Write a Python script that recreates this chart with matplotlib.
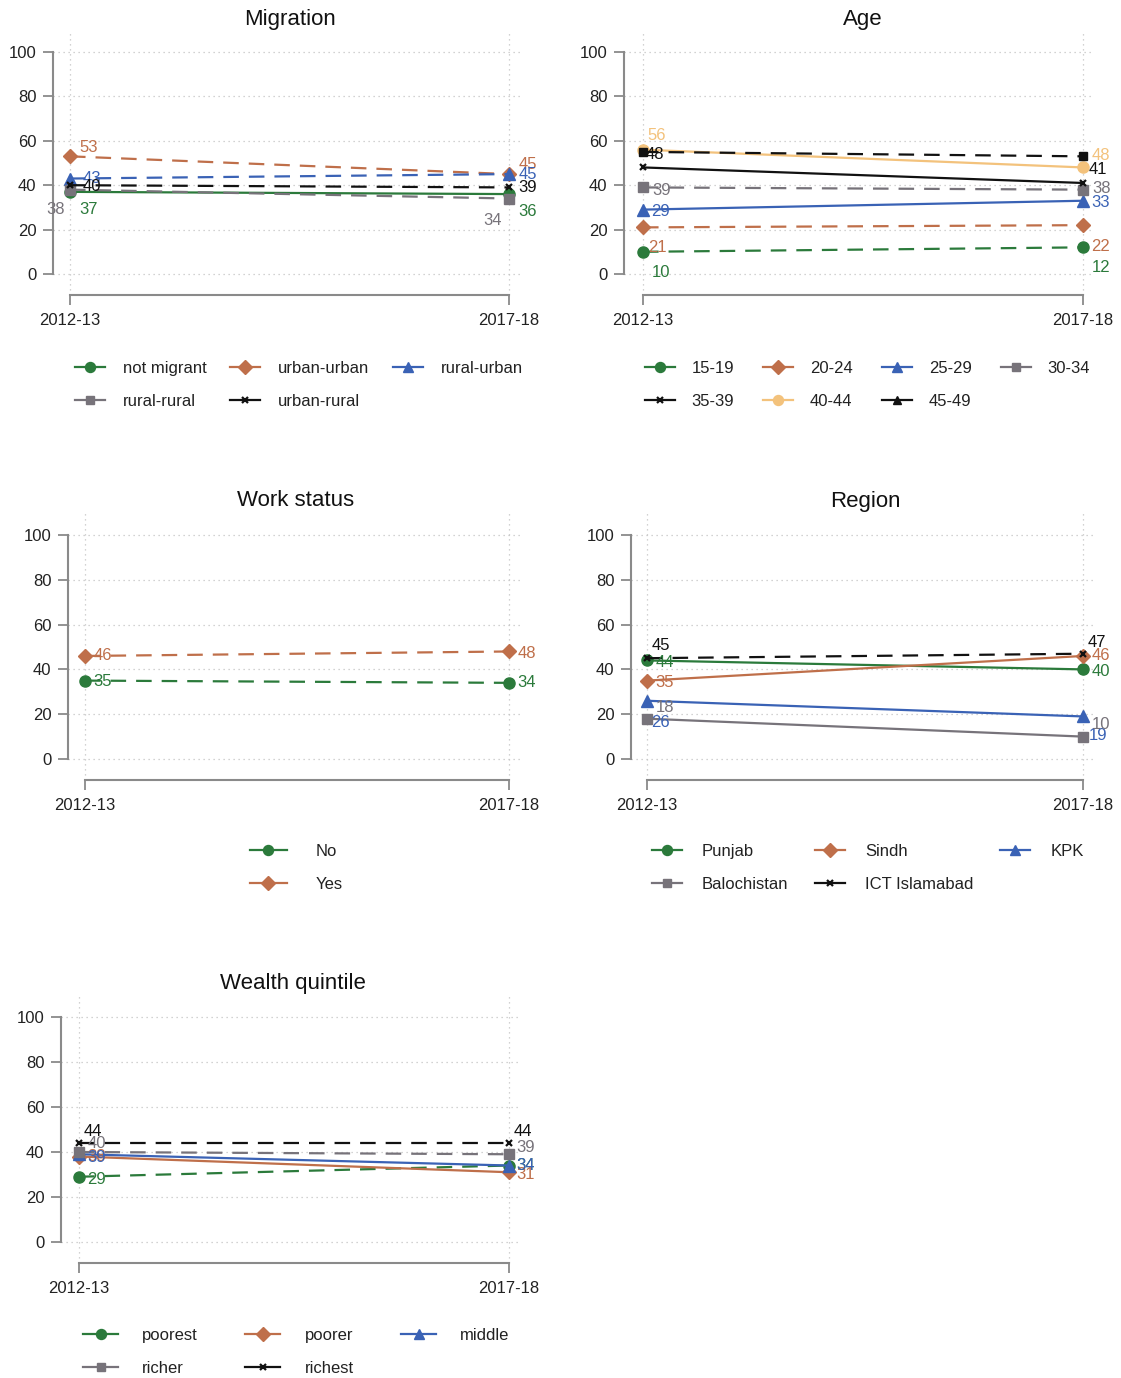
import matplotlib
matplotlib.use("Agg")
import matplotlib.pyplot as plt
from matplotlib.lines import Line2D

plt.rcParams['font.family'] = ['Liberation Sans', 'DejaVu Sans']

W, H = 1121, 1378

# ---- data ----
periods = ['2012-13', '2017-18']

migration_groups = ['not migrant', 'urban-urban', 'rural-urban', 'rural-rural', 'urban-rural']
migration_values = [[37, 36], [53, 45], [43, 45], [38, 34], [40, 39]]

age_groups = ['15-19', '20-24', '25-29', '30-34', '35-39', '40-44', '45-49']
age_values = [[10, 12], [21, 22], [29, 33], [39, 38], [48, 41], [56, 48], [55, 53]]
age_shown = [True, True, True, True, True, True, False]   # 45-49 has no value labels

work_groups = ['No', 'Yes']
work_values = [[35, 34], [46, 48]]

region_groups = ['Punjab', 'Sindh', 'KPK', 'Balochistan', 'ICT Islamabad']
region_values = [[44, 40], [35, 46], [26, 19], [18, 10], [45, 47]]

wealth_groups = ['poorest', 'poorer', 'middle', 'richer', 'richest']
wealth_values = [[29, 34], [38, 31], [39, 34], [40, 39], [44, 44]]

# ---- styles ----
GREEN = '#2b7a3b'
BROWN = '#bf6f4a'
BLUE = '#3a62b5'
GRAY = '#77737a'
BLACK = '#111111'
ORANGE = '#f3c27c'
AXC = '#8a8a8a'


def st(color, marker, dashed, ms=8):
    return dict(color=color, marker=marker, dashed=dashed, ms=ms)


mig_styles = [st(GREEN, 'o', False), st(BROWN, 'D', True, 7.5), st(BLUE, '^', True),
              st(GRAY, 's', True, 7), st(BLACK, 'x', True, 5)]
age_styles = [st(GREEN, 'o', True), st(BROWN, 'D', True, 7.5), st(BLUE, '^', False),
              st(GRAY, 's', True, 7), st(BLACK, 'x', False, 5), st(ORANGE, 'o', False),
              st(BLACK, 's', True, 6)]
age_leg_markers = ['o', 'D', '^', 's', 'x', 'o', '^']
work_styles = [st(GREEN, 'o', True), st(BROWN, 'D', True, 7.5)]
reg_styles = [st(GREEN, 'o', False), st(BROWN, 'D', False, 7.5), st(BLUE, '^', False),
              st(GRAY, 's', False, 7), st(BLACK, 'x', True, 5)]
wealth_styles = [st(GREEN, 'o', True), st(BROWN, 'D', False, 7.5), st(BLUE, '^', False),
                 st(GRAY, 's', True, 7), st(BLACK, 'x', True, 5)]

# label offsets: (dx points, dy data units, ha) for left and right point
mig_lab = [((7, -8, 'left'), (7, -8, 'left')),
           ((7, 4, 'left'), (7, 4.5, 'left')),
           ((9, 0, 'left'), (7, 0, 'left')),
           ((-4, -9, 'right'), (-5, -10, 'right')),
           ((9, -0.7, 'left'), (7, 0, 'left'))]
age_lab = [((6, -9.5, 'left'), (6, -9, 'left')),
           ((4, -9, 'left'), (6, -9.5, 'left')),
           ((6, -1, 'left'), (6, -1, 'left')),
           ((7, -1.5, 'left'), (7, 0.5, 'left')),
           ((2, 6, 'left'), (4, 6, 'left')),
           ((3, 6.5, 'left'), (6, 5.5, 'left')),
           ((0, 0, 'left'), (0, 0, 'left'))]
work_lab = [((6, -0.5, 'left'), (6, 0, 'left')),
            ((6, 0, 'left'), (6, -1, 'left'))]
reg_lab = [((6, -1, 'left'), (6, -1, 'left')),
           ((6, -1, 'left'), (6, 0, 'left')),
           ((3, -9.5, 'left'), (4, -8.5, 'left')),
           ((6, 5, 'left'), (6, 5.5, 'left')),
           ((3, 5.5, 'left'), (3, 5, 'left'))]
wealth_lab = [((6, -1, 'left'), (5, 0, 'left')),
              ((6, 0, 'left'), (5, -0.8, 'left')),
              ((6, -1.5, 'left'), (5, 0, 'left')),
              ((6, 4, 'left'), (5, 3, 'left')),
              ((3, 5, 'left'), (3, 5, 'left'))]

fig = plt.figure(figsize=(W / 100, H / 100), dpi=100)


def panel(box, title, title_xy, groups, values, styles, labs, shown=None):
    spine, x0, x1, y100, y0 = box
    left, right = spine, x1 + 11
    top, bottom = y100 - 22, y0 + 21
    ax = fig.add_axes([left / W, 1 - bottom / H, (right - left) / W, (bottom - top) / H])
    sx = x1 - x0
    sy = (y0 - y100) / 100.0
    ax.set_xlim((spine - x0) / sx, 1 + 11 / sx)
    ax.set_ylim(-(bottom - y0) / sy, 100 + (y100 - top) / sy)
    ax.set_xticks([0, 1])
    ax.set_xticklabels(periods)
    ax.set_yticks([0, 20, 40, 60, 80, 100])
    ax.grid(True, linestyle=(0, (1, 3)), color='#c4c4c4', lw=0.9)
    for s in ['top', 'right']:
        ax.spines[s].set_visible(False)
    ax.spines['left'].set_bounds(0, 100)
    ax.spines['bottom'].set_bounds(0, 1)
    for s in ['left', 'bottom']:
        ax.spines[s].set_color(AXC)
        ax.spines[s].set_linewidth(1.5)
    ax.tick_params(axis='both', direction='out', length=7, width=1.3, color=AXC,
                   labelsize=12, labelcolor='#222222')
    ax.tick_params(axis='x', pad=6)
    ax.tick_params(axis='y', pad=5)
    ax.set_axisbelow(True)
    for i, (vals, s) in enumerate(zip(values, styles)):
        ls = (0, (7, 4.5)) if s['dashed'] else '-'
        mew = 1.6 if s['marker'] == 'x' else 1
        ax.plot([0, 1], vals, color=s['color'], lw=1.6, linestyle=ls,
                marker=s['marker'], ms=s['ms'], mew=mew, clip_on=False, zorder=3)
        if shown is not None and not shown[i]:
            continue
        for xi, v, (dx, dy, ha) in zip([0, 1], vals, labs[i]):
            ax.annotate(str(v), (xi, v + dy), xytext=(dx, 0), textcoords='offset points',
                        ha=ha, va='center', color=s['color'], fontsize=12, zorder=4,
                        annotation_clip=False)
    fig.text(title_xy[0] / W, 1 - title_xy[1] / H, title, ha='center', va='center',
             fontsize=16, color='#111111')
    return ax


def legend(groups, styles, anchor, ncol, markers=None, htp=1.1, hl=1.8, cs=1.45):
    handles = []
    for i, s in enumerate(styles):
        m = markers[i] if markers else s['marker']
        mew = 1.6 if m == 'x' else 1
        handles.append(Line2D([], [], color=s['color'], lw=1.6, marker=m,
                              ms=s['ms'] * 0.9, mew=mew))
    # matplotlib fills columns first; reorder so the items read row by row
    n = len(groups)
    nrows = -(-n // ncol)
    order = [r * ncol + c for c in range(ncol) for r in range(nrows) if r * ncol + c < n]
    fig.legend([handles[k] for k in order], [groups[k] for k in order], loc='upper left',
               bbox_to_anchor=(anchor[0] / W, 1 - anchor[1] / H), ncol=ncol,
               frameon=False, fontsize=12, handlelength=hl, handletextpad=htp,
               columnspacing=cs, labelspacing=1.07, borderpad=0, borderaxespad=0,
               labelcolor='#222222')


panel((53, 70, 509, 52, 274), 'Migration', (290, 19), migration_groups,
      migration_values, mig_styles, mig_lab)
panel((624, 643, 1083, 52, 274), 'Age', (863, 19), age_groups,
      age_values, age_styles, age_lab, shown=age_shown)
panel((68, 85, 509, 535, 759), 'Work status', (296, 501), work_groups,
      work_values, work_styles, work_lab)
panel((631, 647, 1083, 535, 759), 'Region', (865, 501), region_groups,
      region_values, reg_styles, reg_lab)
panel((61, 79, 509, 1017, 1242), 'Wealth quintile', (293, 984), wealth_groups,
      wealth_values, wealth_styles, wealth_lab)

legend(migration_groups, mig_styles, (75, 361), 3, htp=1.08, hl=1.8, cs=1.4)
legend(age_groups, age_styles, (645, 361), 4, markers=age_leg_markers, htp=1.0, hl=1.8, cs=1.75)
legend(work_groups, work_styles, (250, 844), 1, htp=1.75, hl=2.2)
legend(region_groups, reg_styles, (652, 844), 3, htp=1.2, hl=1.8, cs=1.6)
legend(wealth_groups, wealth_styles, (83, 1328), 3, htp=1.45, hl=2.1, cs=2.85)

fig.savefig('out.png', dpi=100, facecolor='white')
